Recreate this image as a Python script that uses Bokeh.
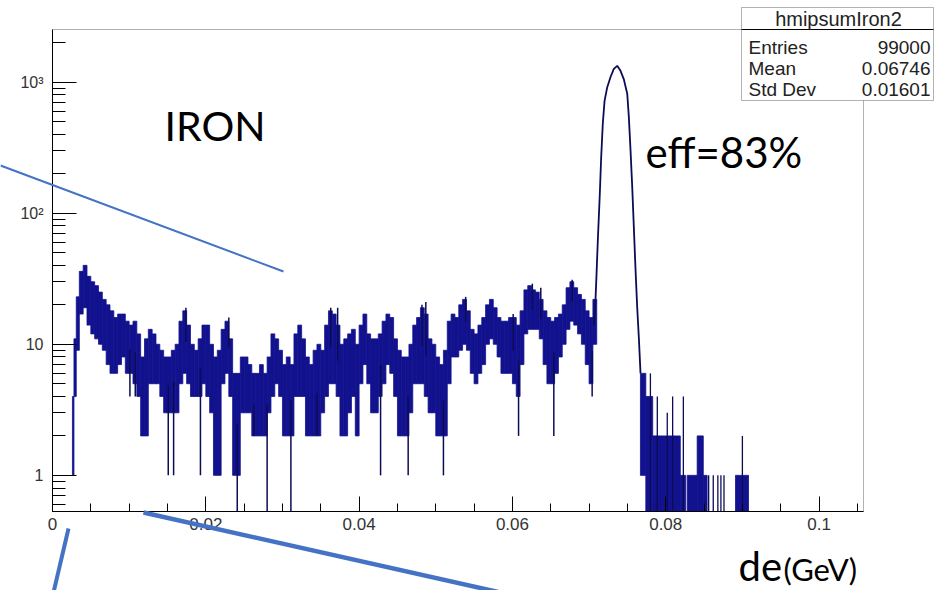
import numpy as np
from bokeh.plotting import figure
from bokeh.models import Range1d, FixedTicker, CustomJSTickFormatter, Label, Arrow, BoxAnnotation
from bokeh.embed import file_html
from bokeh.resources import INLINE

# ---------------- data ----------------
# dense low-energy part of the spectrum: per-segment min / max bin content
band_edges = [0.0026, 0.0028, 0.0031] + [round(0.0035 + 0.0005 * i, 4) for i in range(136)]
band_lo = [1, 4, 9, 17, 19, 14, 12, 11, 10, 9,
           7, 6, 6, 7, 8, 6, 6, 5, 4, 2,
           2, 5, 5, 5, 4, 3, 3, 3, 3, 5,
           6, 5, 4, 4, 4, 5, 4, 3, 1, 1,
           5, 6, 4, 1, 1, 3, 3, 3, 2, 2,
           2, 2, 3, 4, 5, 4, 2, 2, 2, 4,
           4, 4, 2, 2, 2, 2, 3, 4, 5, 5,
           4, 2, 2, 3, 4, 2, 5, 7, 5, 3,
           3, 4, 5, 7, 6, 4, 2, 2, 2, 3,
           5, 5, 5, 4, 3, 3, 2, 2, 2, 5,
           8, 8, 9, 10, 9, 6, 5, 6, 7, 10,
           11, 10, 8, 6, 6, 6, 5, 4, 7, 12,
           13, 13, 13, 11, 7, 5, 5, 6, 8, 10,
           13, 15, 14, 12, 10, 7, 5, 10]
band_hi = [4, 11, 23, 36, 40, 33, 30, 28, 25, 22,
           20, 18, 16, 17, 17, 15, 14, 15, 12, 8,
           11, 13, 12, 10, 9, 8, 8, 9, 10, 15,
           18, 14, 10, 9, 11, 14, 14, 10, 8, 9,
           13, 15, 11, 6, 6, 8, 8, 7, 6, 6,
           7, 6, 8, 12, 11, 9, 7, 8, 7, 12,
           14, 11, 8, 7, 9, 10, 9, 14, 18, 17,
           14, 10, 11, 12, 13, 10, 14, 17, 12, 11,
           11, 12, 15, 17, 16, 11, 9, 8, 8, 10,
           14, 16, 19, 17, 11, 10, 8, 7, 9, 15,
           17, 16, 20, 22, 18, 13, 12, 14, 16, 20,
           22, 19, 16, 15, 15, 16, 16, 14, 18, 26,
           28, 26, 25, 22, 18, 16, 15, 16, 17, 20,
           27, 30, 27, 24, 22, 18, 16, 22]
# isolated single bins sticking out of the band (0 = empty bin)
spike_x = [0.0101, 0.0108, 0.0151, 0.0158, 0.0193, 0.0241, 0.0263, 0.0280, 0.0311,
           0.0345, 0.0428, 0.0464, 0.0510, 0.0608, 0.0654, 0.0704,
           0.0174, 0.0230, 0.0363, 0.0372, 0.0482, 0.0487, 0.0539, 0.0601,
           0.0626, 0.0637, 0.0678]
spike_val = [4, 4, 1, 1, 1, 0, 2, 0, 0,
             2, 1, 1, 1, 2, 2, 4,
             19, 16, 19, 19, 20, 21, 23, 17,
             29, 27, 31]
# MIP peak
peak_x = [0.07062, 0.07084, 0.07097, 0.07114, 0.07140, 0.07158, 0.07179, 0.07202,
          0.07237, 0.07280, 0.07323, 0.07367, 0.07410, 0.07454, 0.07498, 0.07519,
          0.07541, 0.07563, 0.07584, 0.07606, 0.07628, 0.07650, 0.07671]
peak_y = [14, 22, 34, 62, 140, 268, 482, 719,
          915, 1094, 1261, 1332, 1219, 1048, 815, 538,
          300, 158, 78, 37, 19, 11, 6]
# high-energy tail (alternating empty / few-entry bins)
tail_left = [0.0767, 0.0774, 0.0783, 0.0789, 0.0819, 0.0828, 0.0841, 0.0849, 0.0891]
tail_right = [0.0774, 0.0783, 0.0789, 0.0819, 0.0826, 0.0841, 0.0849, 0.0854, 0.0908]
tail_lo = [1, 0, 0, 0, 0, 0, 0, 0, 0]
tail_hi = [6, 4, 2, 2, 1, 1, 2, 1, 1]
tail_spike_x = [0.0780, 0.0789, 0.0802, 0.0809, 0.0823, 0.0856, 0.0862, 0.0868, 0.0872, 0.0876, 0.0900]
tail_spike_val = [6, 4, 3, 4, 4, 1, 1, 1, 1, 1, 2]

x_tick_vals = [0, 0.02, 0.04, 0.06, 0.08, 0.1]
x_tick_labels = ["0", "0.02", "0.04", "0.06", "0.08", "0.1"]
y_tick_vals = [1, 10, 100, 1000]
y_tick_labels = ["1", "10", "10²", "10³"]

stats_title = "hmipsumIron2"
stats_names = ["Entries", "Mean", "Std Dev"]
stats_values = ["99000", "0.06746", "0.01601"]

# ---------------- layout ----------------
W, H = 934, 590
FL, FR, FT, FB = 52, 863, 29, 511          # ROOT frame edges (canvas px)
X_MIN, X_MAX = 0.0, 0.1058                  # ROOT axis ranges
Y_MIN, Y_MAX = 0.53, 2520

# the Bokeh frame covers the whole canvas; ROOT axes are drawn at fixed locations
kx = (X_MAX - X_MIN) / (FR - FL)
ky = (np.log10(Y_MAX) - np.log10(Y_MIN)) / (FB - FT)
xr = Range1d(X_MIN - FL * kx, X_MAX + (W - FR) * kx)
yr = Range1d(Y_MIN / 10 ** ((H - FB) * ky), Y_MAX * 10 ** (FT * ky))

BAND = "#12128e"
DARK = "#0c0c55"
SLIDE_BLUE = "#4472c4"
ROOT_FONT = "Liberation Sans"
SLIDE_FONT = "Lato"


def sx(X):
    return X


def sy(Y):
    return H - Y


def floor0(a):
    a = np.asarray(a, dtype=float)
    return np.where(a <= 0, Y_MIN, a)


p = figure(width=W, height=H, x_range=xr, y_range=yr, y_axis_type="log",
           output_backend="svg", toolbar_location=None, min_border=0)
p.title.visible = False
p.background_fill_color = "white"
p.border_fill_color = "white"
p.xgrid.visible = False
p.ygrid.visible = False
p.outline_line_color = None

# ROOT frame box
p.add_layout(BoxAnnotation(left=X_MIN, right=X_MAX, bottom=Y_MIN, top=Y_MAX,
                           fill_alpha=0, line_color="black", line_width=1, level="underlay"))

# histogram body
edges = np.array(band_edges)
lo = np.array(band_lo, float)
hi = np.array(band_hi, float)
p.quad(left=edges[:-1], right=edges[1:], bottom=lo, top=hi,
       fill_color=BAND, line_color=BAND, line_width=0.8)

idx = np.clip(np.searchsorted(edges, spike_x) - 1, 0, len(lo) - 1)
mid = np.sqrt(lo[idx] * hi[idx])
p.segment(x0=spike_x, y0=floor0(spike_val), x1=spike_x, y1=mid, line_color=DARK, line_width=1.5)

p.line(peak_x, peak_y, line_color=DARK, line_width=1.8)

p.quad(left=tail_left, right=tail_right, bottom=floor0(tail_lo), top=tail_hi,
       fill_color=BAND, line_color=BAND, line_width=0.8)
p.segment(x0=tail_spike_x, y0=Y_MIN, x1=tail_spike_x, y1=tail_spike_val, line_color=DARK, line_width=1.3)

# axes (fixed at the ROOT frame edges)
xa = p.xaxis[0]
xa.fixed_location = Y_MIN
xa.bounds = (X_MIN, X_MAX)
xa.ticker = FixedTicker(ticks=x_tick_vals, minor_ticks=[round(0.005 * i, 3) for i in range(22)])
xa.formatter = CustomJSTickFormatter(args=dict(v=x_tick_vals, l=x_tick_labels), code="""
for (let i = 0; i < v.length; i++) { if (Math.abs(v[i] - tick) < 1e-9) return l[i]; }
return '';""")
xa.major_tick_in = 15
xa.major_tick_out = 0
xa.minor_tick_in = 8
xa.minor_tick_out = 0
xa.major_label_standoff = 6
xa.major_label_text_font = ROOT_FONT
xa.major_label_text_font_size = "17px"
xa.major_label_text_color = "#333333"
xa.axis_line_color = "black"

ya = p.yaxis[0]
ya.fixed_location = X_MIN
ya.bounds = (Y_MIN, Y_MAX)
y_minor = [m * 10.0 ** k for k in range(-1, 4) for m in range(2, 10) if Y_MIN <= m * 10.0 ** k <= Y_MAX]
ya.ticker = FixedTicker(ticks=y_tick_vals, minor_ticks=y_minor)
ya.formatter = CustomJSTickFormatter(args=dict(v=y_tick_vals, l=y_tick_labels), code="""
for (let i = 0; i < v.length; i++) { if (Math.abs(v[i] - tick) < 1e-6 * v[i]) return l[i]; }
return '';""")
ya.major_tick_in = 24
ya.major_tick_out = 0
ya.minor_tick_in = 13
ya.minor_tick_out = 0
ya.major_label_standoff = 9
ya.major_label_text_font = ROOT_FONT
ya.major_label_text_font_size = "16px"
ya.major_label_text_color = "#333333"
ya.axis_line_color = "black"

# stats box
p.add_layout(BoxAnnotation(left=sx(741), right=sx(933), top=sy(7), bottom=sy(100),
                           left_units="screen", right_units="screen", top_units="screen", bottom_units="screen",
                           fill_color="white", fill_alpha=1.0, line_color="black", line_width=1, level="overlay"))
p.add_layout(Arrow(x_start=sx(741), y_start=sy(29), x_end=sx(933), y_end=sy(29),
                   start_units="screen", end_units="screen", start=None, end=None,
                   line_color="black", line_width=1, level="overlay"))
p.add_layout(Label(x=sx(838), y=sy(18), x_units="screen", y_units="screen", text=stats_title,
                   text_align="center", text_baseline="middle", text_font=ROOT_FONT,
                   text_font_size="20px", text_color="#222222", level="overlay"))
for i, (n, v) in enumerate(zip(stats_names, stats_values)):
    yy = sy(47 + 21 * i)
    p.add_layout(Label(x=sx(748), y=yy, x_units="screen", y_units="screen", text=n,
                       text_align="left", text_baseline="middle", text_font=ROOT_FONT,
                       text_font_size="19px", text_color="#222222", level="overlay"))
    p.add_layout(Label(x=sx(930), y=yy, x_units="screen", y_units="screen", text=v,
                       text_align="right", text_baseline="middle", text_font=ROOT_FONT,
                       text_font_size="19px", text_color="#222222", level="overlay"))

# slide annotations
for (x0, y0, x1, y1, w) in [(0, 165, 283, 271, 2), (143, 512, 500, 592, 4.5), (68, 528, 53, 592, 4)]:
    p.add_layout(Arrow(x_start=sx(x0), y_start=sy(y0), x_end=sx(x1), y_end=sy(y1),
                       start_units="screen", end_units="screen", start=None, end=None,
                       line_color=SLIDE_BLUE, line_width=w, level="overlay"))

p.add_layout(Label(x=sx(164), y=sy(125), x_units="screen", y_units="screen", text="IRON",
                   text_align="left", text_baseline="middle", text_font=SLIDE_FONT,
                   text_font_size="41px", text_color="black", level="overlay"))
p.add_layout(Label(x=sx(645), y=sy(151), x_units="screen", y_units="screen", text="eff=83%",
                   text_align="left", text_baseline="middle", text_font=SLIDE_FONT,
                   text_font_size="42px", text_color="black", level="overlay"))
p.add_layout(Label(x=sx(738), y=sy(565), x_units="screen", y_units="screen", text="de",
                   text_align="left", text_baseline="middle", text_font=SLIDE_FONT,
                   text_font_size="40px", text_color="black", level="overlay"))
p.add_layout(Label(x=sx(783), y=sy(568), x_units="screen", y_units="screen", text="(GeV)",
                   text_align="left", text_baseline="middle", text_font=SLIDE_FONT,
                   text_font_size="31px", text_color="black", level="overlay"))

open("out.html", "w").write(file_html(p, INLINE))
